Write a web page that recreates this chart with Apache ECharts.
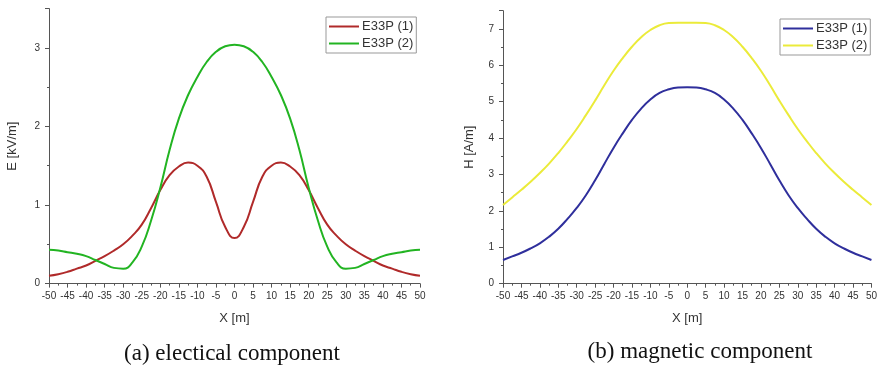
<!DOCTYPE html>
<html>
<head>
<meta charset="utf-8">
<script src="https://cdn.jsdelivr.net/npm/echarts@6/dist/echarts.min.js"></script>
<style>
  html, body { margin: 0; padding: 0; background: #fff; }
  #chart { width: 880px; height: 371px; }
</style>
</head>
<body>
<div id="chart"></div>
<script>
// x positions in metres
const xs = [-50, -47.5, -45, -42.5, -40, -37.5, -35, -32.5, -30, -27.5, -25, -22.5, -20, -17.5, -15, -12.5, -10, -7.5, -5, -2.5,
  0, 2.5, 5, 7.5, 10, 12.5, 15, 17.5, 20, 22.5, 25, 27.5, 30, 32.5, 35, 37.5, 40, 42.5, 45, 47.5, 50];

// (a) electric field, kV/m
const e1 = [0.10, 0.12, 0.15, 0.19, 0.23, 0.29, 0.35, 0.42, 0.50, 0.61, 0.75, 0.96, 1.19, 1.38, 1.49, 1.54, 1.50, 1.36, 1.04, 0.72,
  0.58, 0.72, 1.04, 1.36, 1.50, 1.54, 1.49, 1.38, 1.19, 0.96, 0.75, 0.61, 0.50, 0.42, 0.35, 0.29, 0.23, 0.19, 0.15, 0.12, 0.10];
const e2 = [0.43, 0.42, 0.40, 0.38, 0.35, 0.30, 0.25, 0.20, 0.19, 0.27, 0.47, 0.80, 1.22, 1.70, 2.10, 2.40, 2.63, 2.82, 2.95, 3.02,
  3.04, 3.02, 2.95, 2.82, 2.63, 2.40, 2.10, 1.70, 1.22, 0.80, 0.47, 0.27, 0.19, 0.20, 0.25, 0.30, 0.35, 0.38, 0.40, 0.42, 0.43];

// (b) magnetic field, A/m
const h1 = [0.65, 0.75, 0.85, 0.97, 1.11, 1.29, 1.51, 1.78, 2.08, 2.43, 2.84, 3.29, 3.73, 4.13, 4.50, 4.81, 5.06, 5.24, 5.34, 5.39,
  5.40, 5.39, 5.34, 5.24, 5.06, 4.81, 4.50, 4.13, 3.73, 3.29, 2.84, 2.43, 2.08, 1.78, 1.51, 1.29, 1.11, 0.97, 0.85, 0.75, 0.65];
const h2 = [2.16, 2.37, 2.58, 2.80, 3.04, 3.30, 3.59, 3.91, 4.25, 4.63, 5.03, 5.45, 5.85, 6.20, 6.51, 6.77, 6.97, 7.10, 7.16, 7.17,
  7.17, 7.17, 7.16, 7.10, 6.97, 6.77, 6.51, 6.20, 5.85, 5.45, 5.03, 4.63, 4.25, 3.91, 3.59, 3.30, 3.04, 2.80, 2.58, 2.37, 2.16];

const seriesNames = ['E33P (1)', 'E33P (2)'];
const captions = ['(a) electical component', '(b) magnetic component'];

const pair = (ys) => xs.map((x, i) => [x, ys[i]]);

const chart = echarts.init(document.getElementById('chart'));

const axisColor = '#555';
const labelColor = '#333';

const xAxisBase = {
  type: 'value', min: -50, max: 50, interval: 5,
  name: 'X [m]', nameLocation: 'middle', nameGap: 28,
  nameTextStyle: { color: labelColor, fontSize: 13, fontFamily: 'Arial' },
  axisLine: { onZero: false, lineStyle: { color: axisColor, width: 1 } },
  axisTick: { length: 4, lineStyle: { color: axisColor } },
  minorTick: { show: true, splitNumber: 2, length: 2, lineStyle: { color: axisColor } },
  axisLabel: { color: labelColor, fontSize: 10, fontFamily: 'Arial', margin: 8 },
  splitLine: { show: false }
};

const yAxisBase = {
  type: 'value', min: 0, interval: 1,
  nameLocation: 'middle',
  nameTextStyle: { color: labelColor, fontSize: 13, fontFamily: 'Arial' },
  axisLine: { show: true, onZero: false, lineStyle: { color: axisColor, width: 1 } },
  axisTick: { show: true, length: 4, lineStyle: { color: axisColor } },
  minorTick: { show: true, splitNumber: 2, length: 2, lineStyle: { color: axisColor } },
  axisLabel: { color: labelColor, fontSize: 10, fontFamily: 'Arial', margin: 9, showMaxLabel: false },
  splitLine: { show: false }
};

const lineSeries = (name, data, color, idx) => ({
  name, type: 'line', data, xAxisIndex: idx, yAxisIndex: idx,
  smooth: 0.5, symbol: 'none',
  lineStyle: { color, width: 2 }, itemStyle: { color }
});

const legendBase = {
  orient: 'vertical', itemWidth: 30, itemHeight: 2, itemGap: 4, icon: 'rect',
  padding: [3, 3, 3, 3], borderColor: '#999', borderWidth: 1,
  textStyle: { fontSize: 13, fontFamily: 'Arial', color: '#333', padding: [0, 0, 0, -2] }
};

chart.setOption({
  animation: false,
  grid: [
    { left: 49, top: 8.6, width: 371, height: 275 },
    { left: 503, top: 10.7, width: 369, height: 273 }
  ],
  xAxis: [
    Object.assign({}, xAxisBase, { gridIndex: 0 }),
    Object.assign({}, xAxisBase, { gridIndex: 1 })
  ],
  yAxis: [
    Object.assign({}, yAxisBase, { gridIndex: 0, max: 3.5, name: 'E [kV/m]', nameGap: 30 }),
    Object.assign({}, yAxisBase, { gridIndex: 1, max: 7.5, name: 'H [A/m]', nameGap: 27 })
  ],
  legend: [
    Object.assign({}, legendBase, { data: ['E33P (1)', 'E33P (2)'], left: 326, top: 17 }),
    Object.assign({}, legendBase, { data: ['E33P (1) ', 'E33P (2) '], left: 780, top: 19,
      formatter: (n) => n.trim() })
  ],
  series: [
    lineSeries(seriesNames[0], pair(e1), '#b02a2a', 0),
    lineSeries(seriesNames[1], pair(e2), '#22b422', 0),
    lineSeries(seriesNames[0] + ' ', pair(h1), '#2f2f9c', 1),
    lineSeries(seriesNames[1] + ' ', pair(h2), '#ebeb3a', 1)
  ],
  graphic: [
    { type: 'text', x: 232, y: 354, style: { text: captions[0], textAlign: 'center', textVerticalAlign: 'middle',
      font: '23px "Liberation Serif", "Times New Roman", serif', fill: '#111' } },
    { type: 'text', x: 700, y: 352, style: { text: captions[1], textAlign: 'center', textVerticalAlign: 'middle',
      font: '23px "Liberation Serif", "Times New Roman", serif', fill: '#111' } }
  ]
});
</script>
</body>
</html>
